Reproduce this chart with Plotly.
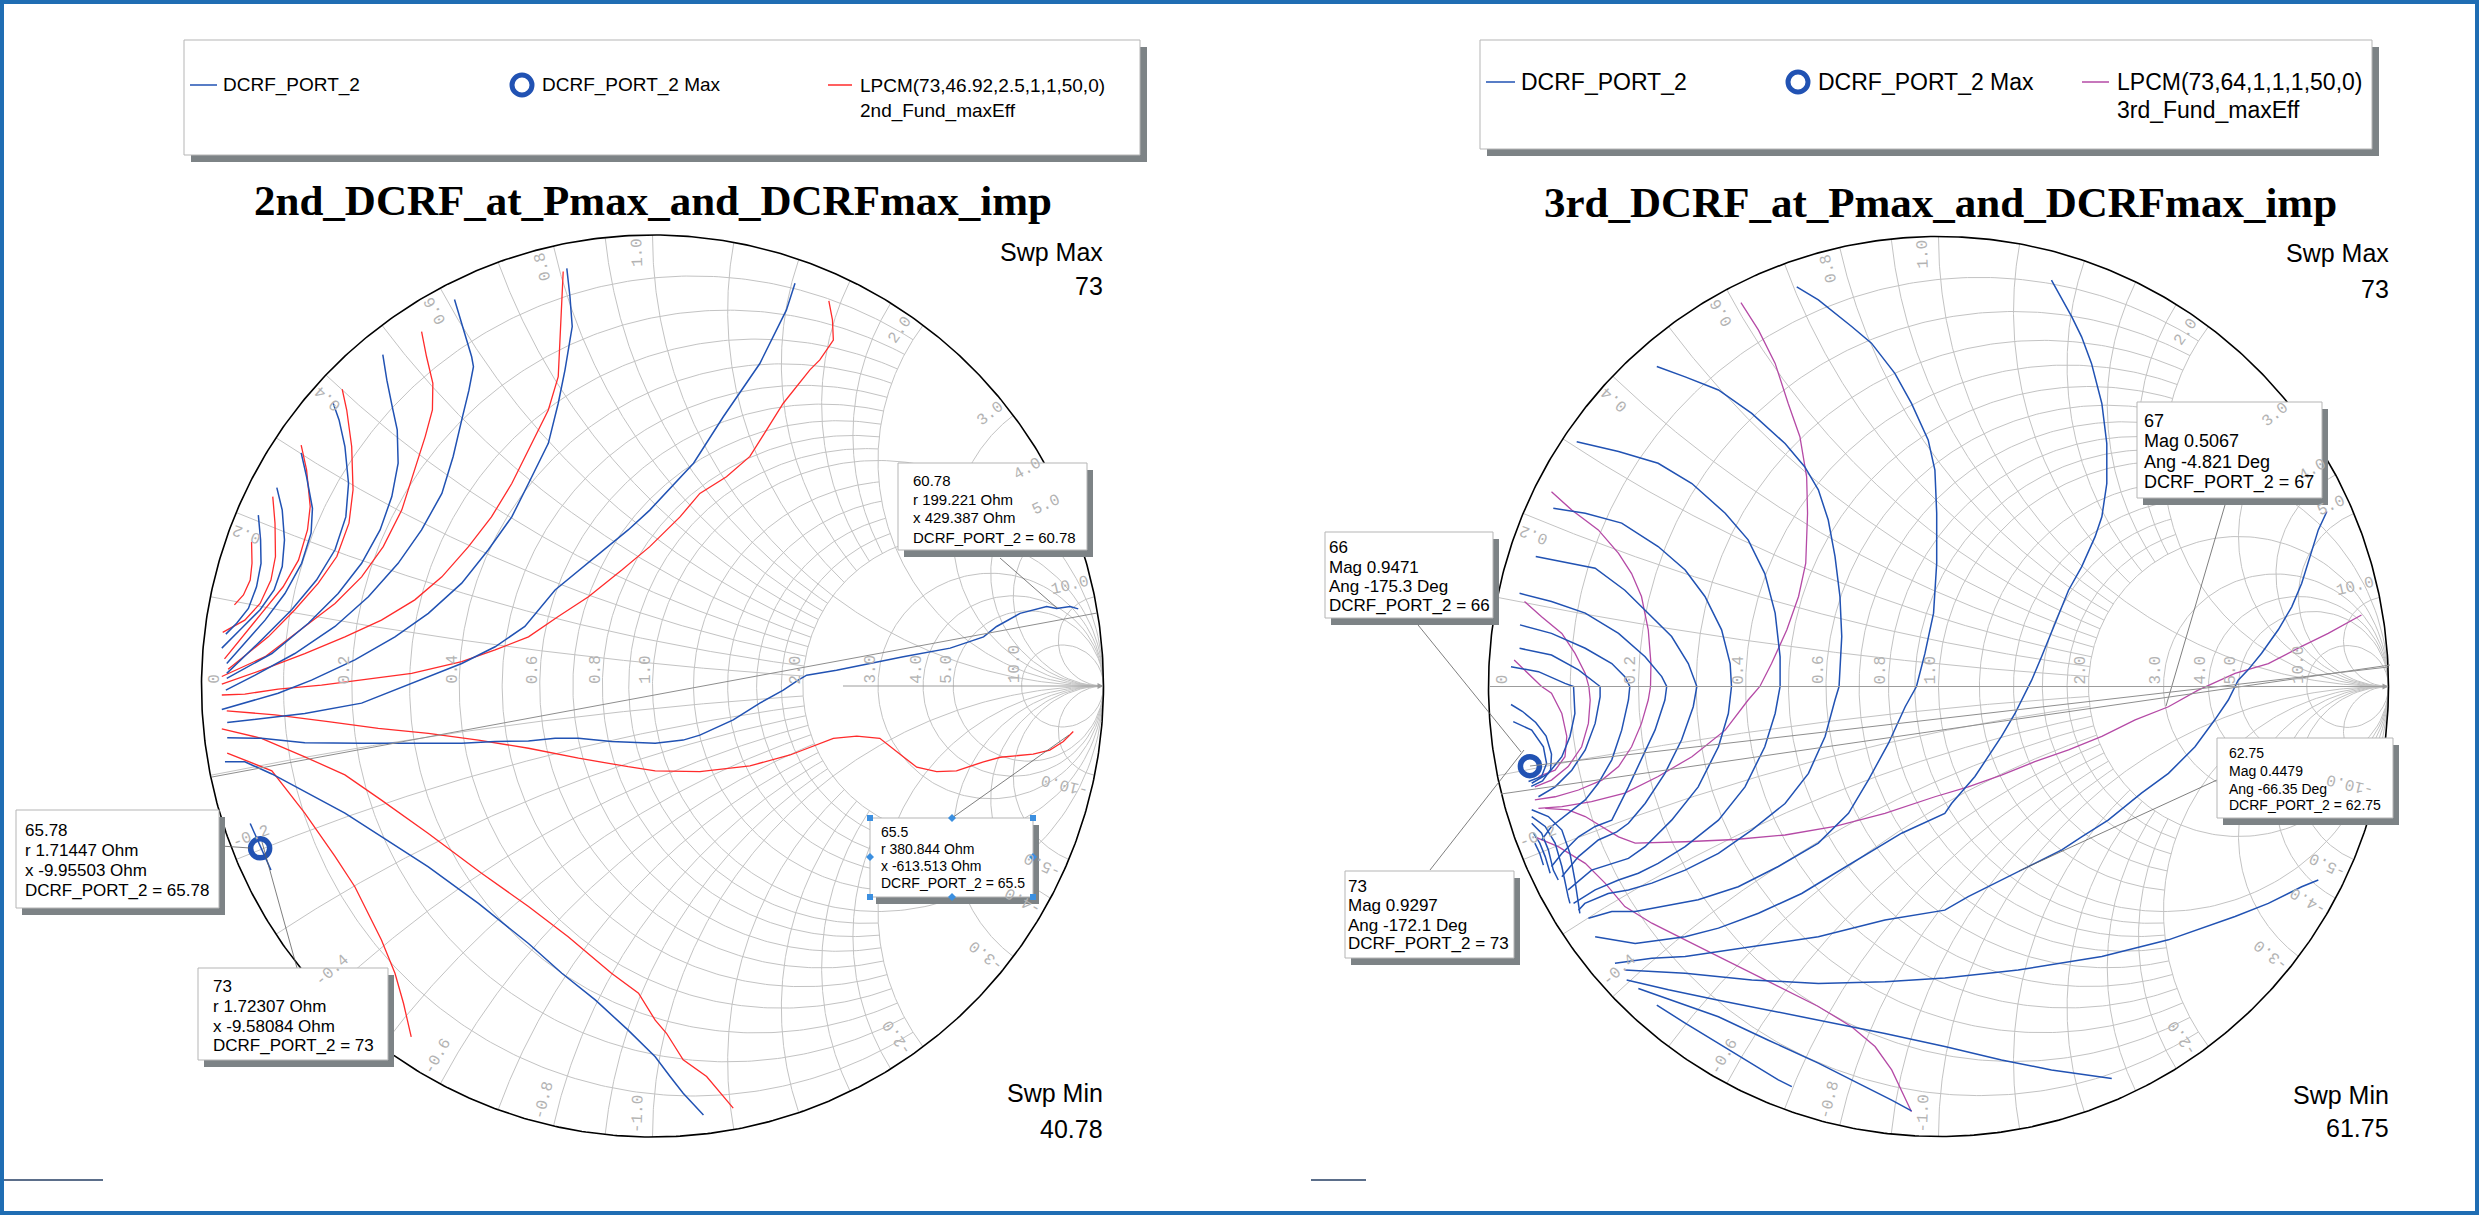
import numpy as np
import plotly.graph_objects as go

W, H = 2479, 1215

# ======================= DATA (reflection coefficient: real / imag) =======================
# ---- Left chart: 2nd_DCRF_at_Pmax_and_DCRFmax_imp ----
L_DCRF_1_RE = [-0.874, -0.869, -0.868, -0.878, -0.896, -0.922, -0.946]
L_DCRF_1_IM = [0.379, 0.324, 0.272, 0.220, 0.172, 0.139, 0.115]
L_DCRF_2_RE = [-0.833, -0.821, -0.816, -0.821, -0.839, -0.870, -0.911, -0.955]
L_DCRF_2_IM = [0.440, 0.390, 0.324, 0.265, 0.213, 0.169, 0.128, 0.084]
L_DCRF_3_RE = [-0.779, -0.767, -0.754, -0.757, -0.778, -0.815, -0.859, -0.904, -0.944]
L_DCRF_3_IM = [0.517, 0.464, 0.394, 0.339, 0.272, 0.205, 0.146, 0.095, 0.050]
L_DCRF_4_RE = [-0.708, -0.695, -0.682, -0.674, -0.680, -0.704, -0.745, -0.800, -0.867, -0.944]
L_DCRF_4_IM = [0.627, 0.590, 0.531, 0.449, 0.375, 0.302, 0.235, 0.169, 0.102, 0.028]
L_DCRF_5_RE = [-0.598, -0.589, -0.577, -0.566, -0.564, -0.578, -0.604, -0.645, -0.697, -0.763, -0.844, -0.944]
L_DCRF_5_IM = [0.735, 0.678, 0.619, 0.568, 0.494, 0.420, 0.346, 0.272, 0.205, 0.139, 0.072, 0.017]
L_DCRF_6_RE = [-0.439, -0.423, -0.401, -0.397, -0.407, -0.423, -0.442, -0.467, -0.512, -0.564, -0.630, -0.704, -0.793, -0.881, -0.946]
L_DCRF_6_IM = [0.857, 0.804, 0.730, 0.708, 0.656, 0.590, 0.509, 0.427, 0.346, 0.272, 0.198, 0.132, 0.072, 0.024, -0.009]
L_DCRF_7_RE = [-0.190, -0.183, -0.178, -0.194, -0.209, -0.231, -0.275, -0.312, -0.364, -0.423, -0.497, -0.571, -0.660, -0.756, -0.830, -0.904, -0.955]
L_DCRF_7_IM = [0.926, 0.863, 0.797, 0.701, 0.627, 0.538, 0.449, 0.375, 0.302, 0.228, 0.161, 0.109, 0.058, 0.013, -0.016, -0.038, -0.052]
L_DCRF_8_RE = [0.316, 0.297, 0.238, 0.157, 0.091, -0.006, -0.054, -0.127, -0.216, -0.283, -0.349, -0.423, -0.534, -0.645, -0.771, -0.867, -0.943]
L_DCRF_8_IM = [0.893, 0.834, 0.715, 0.597, 0.494, 0.390, 0.346, 0.287, 0.213, 0.132, 0.087, 0.050, 0.006, -0.038, -0.061, -0.072, -0.081]
L_DCRF_9_RE = [-0.943, -0.867, -0.771, -0.645, -0.423, -0.349, -0.275, -0.216, -0.164, -0.091, 0.006, 0.068, 0.105, 0.179, 0.238, 0.290, 0.323,
               0.342, 0.408, 0.467, 0.556, 0.660, 0.734, 0.763, 0.815, 0.874, 0.896, 0.926, 0.944]
L_DCRF_9_IM = [-0.115, -0.116, -0.126, -0.127, -0.127, -0.123, -0.122, -0.116, -0.116, -0.123, -0.127, -0.120, -0.109, -0.075, -0.038, -0.009, 0.013,
               0.024, 0.035, 0.047, 0.065, 0.084, 0.109, 0.132, 0.161, 0.176, 0.172, 0.176, 0.171]
L_DCRF_10_RE = [-0.948, -0.904, -0.844, -0.771, -0.682, -0.601, -0.497, -0.386, -0.275, -0.201, -0.127, -0.054, 0.006, 0.039, 0.068, 0.113]
L_DCRF_10_IM = [-0.168, -0.168, -0.195, -0.234, -0.282, -0.334, -0.401, -0.482, -0.571, -0.637, -0.696, -0.763, -0.822, -0.866, -0.903, -0.951]
L_DCRF_11_RE = [-0.892, -0.846]
L_DCRF_11_IM = [-0.305, -0.408]

L_LPCM_1_RE = [-0.889, -0.888, -0.892, -0.907, -0.927]
L_LPCM_1_IM = [0.320, 0.272, 0.235, 0.202, 0.180]
L_LPCM_2_RE = [-0.842, -0.837, -0.836, -0.846, -0.870, -0.904, -0.953]
L_LPCM_2_IM = [0.420, 0.361, 0.287, 0.235, 0.183, 0.146, 0.119]
L_LPCM_3_RE = [-0.779, -0.767, -0.759, -0.765, -0.785, -0.819, -0.867, -0.907, -0.949]
L_LPCM_3_IM = [0.534, 0.479, 0.398, 0.346, 0.279, 0.220, 0.161, 0.113, 0.060]
L_LPCM_4_RE = [-0.688, -0.678, -0.667, -0.664, -0.673, -0.700, -0.741, -0.793, -0.852, -0.941]
L_LPCM_4_IM = [0.658, 0.612, 0.531, 0.435, 0.361, 0.287, 0.228, 0.169, 0.109, 0.037]
L_LPCM_5_RE = [-0.512, -0.501, -0.487, -0.488, -0.504, -0.527, -0.556, -0.597, -0.645, -0.704, -0.771, -0.859, -0.955]
L_LPCM_5_IM = [0.786, 0.730, 0.671, 0.612, 0.553, 0.479, 0.390, 0.309, 0.242, 0.183, 0.132, 0.065, 0.021]
L_LPCM_6_RE = [-0.198, -0.201, -0.204, -0.209, -0.231, -0.268, -0.312, -0.357, -0.408, -0.467, -0.527, -0.601, -0.682, -0.771, -0.867, -0.955]
L_LPCM_6_IM = [0.919, 0.848, 0.767, 0.686, 0.612, 0.538, 0.449, 0.375, 0.309, 0.242, 0.191, 0.146, 0.109, 0.072, 0.035, 0.004]
L_LPCM_7_RE = [0.391, 0.399, 0.401, 0.371, 0.349, 0.290, 0.253, 0.216, 0.164, 0.105, 0.061, -0.006, -0.068, -0.142, -0.209, -0.275,
               -0.349, -0.423, -0.534, -0.645, -0.734, -0.830, -0.904, -0.955]
L_LPCM_7_IM = [0.854, 0.812, 0.767, 0.723, 0.701, 0.627, 0.568, 0.509, 0.464, 0.427, 0.375, 0.309, 0.257, 0.198, 0.154, 0.109,
               0.080, 0.054, 0.028, 0.013, 0.002, -0.007, -0.018, -0.020]
L_LPCM_8_RE = [-0.944, -0.837, -0.719, -0.608, -0.497, -0.386, -0.275, -0.164, -0.054, 0.006, 0.105, 0.216, 0.305, 0.401, 0.453,
               0.504, 0.556, 0.586, 0.630, 0.674, 0.734, 0.771, 0.844, 0.881, 0.911, 0.933]
L_LPCM_8_IM = [-0.055, -0.064, -0.079, -0.094, -0.105, -0.120, -0.138, -0.160, -0.179, -0.188, -0.190, -0.177, -0.153, -0.116, -0.111,
               -0.116, -0.157, -0.180, -0.190, -0.188, -0.168, -0.158, -0.151, -0.142, -0.123, -0.101]
L_LPCM_9_RE = [-0.955, -0.867, -0.771, -0.682, -0.601, -0.497, -0.379, -0.275, -0.187, -0.091, -0.031, 0.006, 0.031, 0.068, 0.120, 0.179]
L_LPCM_9_IM = [-0.095, -0.116, -0.157, -0.197, -0.253, -0.327, -0.415, -0.489, -0.556, -0.637, -0.681, -0.741, -0.770, -0.829, -0.866, -0.936]
L_LPCM_10_RE = [-0.943, -0.904, -0.844, -0.771, -0.704, -0.660, -0.601, -0.571, -0.552, -0.535]
L_LPCM_10_IM = [-0.149, -0.164, -0.188, -0.282, -0.378, -0.445, -0.563, -0.637, -0.704, -0.778]

L_MAX_RE = [-0.870]
L_MAX_IM = [-0.360]

# ---- Right chart: 3rd_DCRF_at_Pmax_and_DCRFmax_imp ----
R_DCRF_1_RE = [-0.626, -0.563, -0.489, -0.415, -0.356, -0.326]
R_DCRF_1_IM = [-0.708, -0.748, -0.793, -0.837, -0.874, -0.889]
R_DCRF_2_RE = [-0.667, -0.593, -0.489, -0.378, -0.267, -0.178, -0.104, -0.060]
R_DCRF_2_IM = [-0.671, -0.697, -0.734, -0.786, -0.837, -0.882, -0.919, -0.943]
R_DCRF_3_RE = [-0.693, -0.600, -0.489, -0.378, -0.267, -0.119, 0.014, 0.140, 0.251, 0.385]
R_DCRF_3_IM = [-0.652, -0.674, -0.697, -0.719, -0.741, -0.771, -0.800, -0.830, -0.852, -0.871]
R_DCRF_4_RE = [-0.697, -0.563, -0.415, -0.267, -0.119, 0.014, 0.177, 0.363, 0.511, 0.659, 0.733, 0.807, 0.844]
R_DCRF_4_IM = [-0.630, -0.637, -0.652, -0.660, -0.656, -0.648, -0.630, -0.600, -0.563, -0.511, -0.482, -0.445, -0.430]
R_DCRF_5_RE = [-0.719, -0.637, -0.563, -0.415, -0.267, -0.119, 0.014, 0.066, 0.126, 0.200, 0.274, 0.318, 0.377, 0.451, 0.511,
               0.570, 0.614, 0.644, 0.666, 0.688, 0.718, 0.755, 0.785, 0.807, 0.829, 0.844, 0.863]
R_DCRF_5_IM = [-0.615, -0.604, -0.600, -0.578, -0.556, -0.519, -0.497, -0.467, -0.437, -0.400, -0.363, -0.334, -0.297, -0.237, -0.193,
               -0.134, -0.074, -0.030, 0.014, 0.037, 0.074, 0.126, 0.177, 0.229, 0.303, 0.348, 0.389]
R_DCRF_6_RE = [-0.763, -0.674, -0.563, -0.489, -0.400, -0.304, -0.230, -0.156, -0.082, 0.014, 0.029, 0.081, 0.140, 0.170, 0.207,
               0.229, 0.259, 0.289, 0.318, 0.348, 0.363, 0.374, 0.374, 0.363, 0.340, 0.318, 0.296, 0.251]
R_DCRF_6_IM = [-0.556, -0.571, -0.556, -0.537, -0.504, -0.460, -0.415, -0.371, -0.326, -0.282, -0.260, -0.200, -0.111, -0.060, 0.014,
               0.066, 0.140, 0.214, 0.266, 0.333, 0.377, 0.451, 0.540, 0.629, 0.718, 0.777, 0.822, 0.903]
R_DCRF_7_RE = [-0.315, -0.267, -0.193, -0.149, -0.097, -0.060, -0.023, -0.008, -0.004, -0.004, -0.011, -0.030, -0.049,
               -0.074, -0.111, -0.156, -0.200, -0.267, -0.356, -0.445, -0.534, -0.619, -0.674, -0.726, -0.778]
R_DCRF_7_IM = [0.888, 0.859, 0.800, 0.763, 0.696, 0.629, 0.548, 0.481, 0.385, 0.274, 0.163, 0.074, 0.000,
               -0.045, -0.126, -0.208, -0.282, -0.348, -0.400, -0.445, -0.474, -0.489, -0.500, -0.500, -0.515]
R_DCRF_8_RE = [-0.626, -0.563, -0.489, -0.415, -0.341, -0.297, -0.267, -0.245, -0.230, -0.219, -0.215, -0.221,
               -0.230, -0.252, -0.289, -0.341, -0.415, -0.489, -0.563, -0.637, -0.689, -0.734, -0.786, -0.800]
R_DCRF_8_IM = [0.711, 0.688, 0.659, 0.607, 0.540, 0.488, 0.437, 0.370, 0.289, 0.200, 0.111, 0.000,
               -0.030, -0.111, -0.193, -0.260, -0.319, -0.371, -0.408, -0.437, -0.452, -0.460, -0.482, -0.497]
R_DCRF_9_RE = [-0.804, -0.711, -0.623, -0.548, -0.474, -0.423, -0.386, -0.363, -0.352, -0.352,
               -0.363, -0.386, -0.430, -0.489, -0.563, -0.623, -0.667, -0.711, -0.763, -0.811]
R_DCRF_9_IM = [0.544, 0.522, 0.496, 0.451, 0.385, 0.326, 0.251, 0.163, 0.066, 0.000,
               -0.060, -0.134, -0.223, -0.297, -0.356, -0.393, -0.415, -0.430, -0.452, -0.482]
R_DCRF_10_RE = [-0.856, -0.785, -0.704, -0.623, -0.563, -0.519, -0.482, -0.463, -0.460,
                -0.467, -0.489, -0.534, -0.593, -0.652, -0.689, -0.726, -0.771, -0.823]
R_DCRF_10_IM = [0.396, 0.385, 0.363, 0.311, 0.259, 0.200, 0.126, 0.051, 0.000,
                -0.060, -0.134, -0.223, -0.297, -0.356, -0.382, -0.393, -0.408, -0.452]
R_DCRF_11_RE = [-0.895, -0.823, -0.763, -0.697, -0.637, -0.593, -0.556, -0.537,
                -0.545, -0.571, -0.608, -0.652, -0.689, -0.715, -0.756, -0.800, -0.837]
R_DCRF_11_IM = [0.289, 0.274, 0.263, 0.214, 0.155, 0.111, 0.051, 0.000,
                -0.045, -0.119, -0.193, -0.260, -0.304, -0.323, -0.341, -0.378, -0.423]
R_DCRF_12_RE = [-0.931, -0.860, -0.785, -0.711, -0.652, -0.615, -0.604,
                -0.608, -0.630, -0.660, -0.689, -0.711, -0.726, -0.763, -0.800, -0.837, -0.860]
R_DCRF_12_IM = [0.207, 0.189, 0.163, 0.118, 0.066, 0.022, 0.000,
                -0.030, -0.097, -0.163, -0.223, -0.267, -0.297, -0.311, -0.334, -0.371, -0.400]
R_DCRF_13_RE = [-0.930, -0.860, -0.785, -0.726, -0.697, -0.686, -0.689, -0.704, -0.726, -0.756, -0.785, -0.823, -0.860, -0.882]
R_DCRF_13_IM = [0.137, 0.118, 0.085, 0.051, 0.022, 0.000, -0.030, -0.097, -0.163, -0.215, -0.252, -0.282, -0.311, -0.341]
R_DCRF_14_RE = [-0.931, -0.860, -0.800, -0.763, -0.752, -0.752, -0.763, -0.785, -0.815, -0.852, -0.889]
R_DCRF_14_IM = [0.085, 0.070, 0.037, 0.007, 0.000, -0.023, -0.082, -0.141, -0.186, -0.223, -0.245]
R_DCRF_15_RE = [-0.950, -0.889, -0.830, -0.811, -0.808, -0.819, -0.837, -0.867, -0.904]
R_DCRF_15_IM = [0.044, 0.033, 0.007, 0.000, -0.060, -0.111, -0.156, -0.193, -0.215]
R_DCRF_16_RE = [-0.950, -0.925, -0.895, -0.872, -0.860, -0.862, -0.880, -0.905]
R_DCRF_16_IM = [-0.040, -0.055, -0.080, -0.110, -0.150, -0.185, -0.210, -0.222]
R_DCRF_17_RE = [-0.945, -0.904, -0.878, -0.871, -0.882, -0.911]
R_DCRF_17_IM = [-0.078, -0.097, -0.134, -0.171, -0.200, -0.211]
R_DCRF_18_RE = [-0.904, -0.867, -0.837, -0.819, -0.808, -0.797]
R_DCRF_18_IM = [-0.274, -0.289, -0.319, -0.371, -0.430, -0.504]
R_DCRF_19_RE = [-0.904, -0.874, -0.852, -0.837, -0.823, -0.819]
R_DCRF_19_IM = [-0.289, -0.311, -0.348, -0.400, -0.467, -0.482]
R_DCRF_20_RE = [-0.904, -0.882, -0.867, -0.856, -0.845]
R_DCRF_20_IM = [-0.304, -0.326, -0.363, -0.408, -0.430]
R_DCRF_21_RE = [-0.900, -0.886, -0.874, -0.863]
R_DCRF_21_IM = [-0.326, -0.348, -0.378, -0.415]
R_DCRF_22_RE = [-0.897, -0.886, -0.878]
R_DCRF_22_IM = [-0.348, -0.371, -0.397]

R_LPCM_1_RE = [0.940, 0.866, 0.807, 0.733, 0.659, 0.577, 0.511, 0.437, 0.363, 0.289, 0.214, 0.140, 0.066, -0.008,
               -0.119, -0.230, -0.341, -0.452, -0.563, -0.674, -0.711, -0.748, -0.785, -0.823, -0.874]
R_LPCM_1_IM = [0.159, 0.118, 0.089, 0.051, 0.029, -0.008, -0.045, -0.074, -0.111, -0.141, -0.167, -0.197, -0.223, -0.245,
               -0.282, -0.311, -0.330, -0.340, -0.345, -0.348, -0.334, -0.311, -0.289, -0.274, -0.271]
R_LPCM_2_RE = [-0.439, -0.400, -0.363, -0.334, -0.308, -0.293, -0.291, -0.295, -0.311, -0.337, -0.371, -0.397,
               -0.423, -0.474, -0.548, -0.623, -0.697, -0.771, -0.837, -0.889]
R_LPCM_2_IM = [0.853, 0.792, 0.718, 0.629, 0.555, 0.466, 0.385, 0.274, 0.200, 0.126, 0.051, 0.000,
               -0.030, -0.097, -0.156, -0.200, -0.237, -0.256, -0.267, -0.271]
R_LPCM_3_RE = [-0.860, -0.815, -0.756, -0.711, -0.682, -0.660, -0.645, -0.639, -0.640,
               -0.645, -0.660, -0.682, -0.711, -0.748, -0.800, -0.852, -0.897]
R_LPCM_3_IM = [0.433, 0.392, 0.348, 0.296, 0.251, 0.200, 0.126, 0.051, 0.000,
               -0.030, -0.082, -0.134, -0.178, -0.208, -0.230, -0.245, -0.252]
R_LPCM_4_RE = [-0.920, -0.882, -0.837, -0.808, -0.785, -0.777, -0.774, -0.778, -0.793, -0.823, -0.860, -0.897]
R_LPCM_4_IM = [0.189, 0.155, 0.118, 0.074, 0.029, 0.000, -0.030, -0.082, -0.134, -0.178, -0.208, -0.223]
R_LPCM_5_RE = [-0.943, -0.911, -0.882, -0.860, -0.837, -0.826, -0.830, -0.852, -0.889]
R_LPCM_5_IM = [0.059, 0.029, 0.000, -0.015, -0.060, -0.111, -0.156, -0.186, -0.200]
R_LPCM_6_RE = [-0.897, -0.845, -0.785, -0.741, -0.697, -0.637, -0.563, -0.489, -0.415, -0.341, -0.267, -0.193, -0.141, -0.104, -0.082, -0.060]
R_LPCM_6_IM = [-0.334, -0.356, -0.393, -0.437, -0.489, -0.526, -0.563, -0.600, -0.637, -0.674, -0.711, -0.756, -0.800, -0.852, -0.897, -0.945]

R_MAX_RE = [-0.908]
R_MAX_IM = [-0.177]

# ---- Smith grid tick values / labels ----
R_TICKS = [0, 0.2, 0.4, 0.6, 0.8, 1.0, 2.0, 3.0, 4.0, 5.0, 10.0]
R_TICK_TEXT = ["0", "0.2", "0.4", "0.6", "0.8", "1.0", "2.0", "3.0", "4.0", "5.0", "10.0"]
X_TICKS = [0.2, 0.4, 0.6, 0.8, 1.0, 2.0, 3.0, 4.0, 5.0, 10.0]
X_TICK_TEXT = ["0.2", "0.4", "0.6", "0.8", "1.0", "2.0", "3.0", "4.0", "5.0", "10.0"]
# grid circles: (value, truncation limit on the other coordinate; None = full)
GRID_R = [(0.1, 2), (0.2, 2), (0.3, 2), (0.4, 2), (0.5, 2), (0.6, 2), (0.7, 2), (0.8, 2), (0.9, 2), (1.0, None),
          (1.2, 2), (1.4, 2), (1.6, 2), (1.8, 2), (2.0, None), (3.0, None), (4.0, None), (5.0, None), (10.0, None)]
GRID_X = [(0.1, 2), (0.2, 2), (0.3, 2), (0.4, 2), (0.5, 2), (0.6, 2), (0.7, 2), (0.8, 2), (0.9, 2), (1.0, None),
          (1.2, 2), (1.4, 2), (1.6, 2), (1.8, 2), (2.0, None), (3.0, None), (4.0, None), (5.0, None), (10.0, None)]

LEFT_DCRF = [(L_DCRF_1_RE, L_DCRF_1_IM), (L_DCRF_2_RE, L_DCRF_2_IM), (L_DCRF_3_RE, L_DCRF_3_IM), (L_DCRF_4_RE, L_DCRF_4_IM),
             (L_DCRF_5_RE, L_DCRF_5_IM), (L_DCRF_6_RE, L_DCRF_6_IM), (L_DCRF_7_RE, L_DCRF_7_IM), (L_DCRF_8_RE, L_DCRF_8_IM),
             (L_DCRF_9_RE, L_DCRF_9_IM), (L_DCRF_10_RE, L_DCRF_10_IM), (L_DCRF_11_RE, L_DCRF_11_IM)]
LEFT_LPCM = [(L_LPCM_1_RE, L_LPCM_1_IM), (L_LPCM_2_RE, L_LPCM_2_IM), (L_LPCM_3_RE, L_LPCM_3_IM), (L_LPCM_4_RE, L_LPCM_4_IM),
             (L_LPCM_5_RE, L_LPCM_5_IM), (L_LPCM_6_RE, L_LPCM_6_IM), (L_LPCM_7_RE, L_LPCM_7_IM), (L_LPCM_8_RE, L_LPCM_8_IM),
             (L_LPCM_9_RE, L_LPCM_9_IM), (L_LPCM_10_RE, L_LPCM_10_IM)]
RIGHT_DCRF = [(R_DCRF_1_RE, R_DCRF_1_IM), (R_DCRF_2_RE, R_DCRF_2_IM), (R_DCRF_3_RE, R_DCRF_3_IM), (R_DCRF_4_RE, R_DCRF_4_IM),
              (R_DCRF_5_RE, R_DCRF_5_IM), (R_DCRF_6_RE, R_DCRF_6_IM), (R_DCRF_7_RE, R_DCRF_7_IM), (R_DCRF_8_RE, R_DCRF_8_IM),
              (R_DCRF_9_RE, R_DCRF_9_IM), (R_DCRF_10_RE, R_DCRF_10_IM), (R_DCRF_11_RE, R_DCRF_11_IM), (R_DCRF_12_RE, R_DCRF_12_IM),
              (R_DCRF_13_RE, R_DCRF_13_IM), (R_DCRF_14_RE, R_DCRF_14_IM), (R_DCRF_15_RE, R_DCRF_15_IM), (R_DCRF_16_RE, R_DCRF_16_IM),
              (R_DCRF_17_RE, R_DCRF_17_IM), (R_DCRF_18_RE, R_DCRF_18_IM), (R_DCRF_19_RE, R_DCRF_19_IM), (R_DCRF_20_RE, R_DCRF_20_IM),
              (R_DCRF_21_RE, R_DCRF_21_IM), (R_DCRF_22_RE, R_DCRF_22_IM)]
RIGHT_LPCM = [(R_LPCM_1_RE, R_LPCM_1_IM), (R_LPCM_2_RE, R_LPCM_2_IM), (R_LPCM_3_RE, R_LPCM_3_IM),
              (R_LPCM_4_RE, R_LPCM_4_IM), (R_LPCM_5_RE, R_LPCM_5_IM), (R_LPCM_6_RE, R_LPCM_6_IM)]

# ======================= STYLE / LAYOUT CONSTANTS =======================
BLUE = "#2152b3"
RED = "#ff2b2b"
MAGENTA = "#b54aa6"
GRID = "#c3c3c3"
LBL = "#b3b3b3"
SANS = "Liberation Sans, Arial, sans-serif"
SERIF = "Liberation Serif, Times New Roman, serif"
MONO = "Liberation Mono, Courier New, monospace"
SHADOW = "#7d8386"

# chart geometry in pixels: centre and radius
CHARTS = {
    "left": dict(cx=652.5, cy=686.0, R=451.0, xd=[0.0, 0.5], xa="x", ya="y", axis_start=0.419),
    "right": dict(cx=1938.5, cy=686.5, R=450.0, xd=[0.5, 1.0], xa="x2", ya="y2", axis_start=-1.0),
}


def px(x):
    return x / W


def py(y):
    return 1 - y / H


def gam(z):
    return (z - 1) / (z + 1)


def grid_lines():
    xs, ys = [], []
    for r, lim in GRID_R:
        tmax = np.arctan(lim) if lim else np.pi / 2 - 2e-4
        t = np.linspace(-tmax, tmax, 400)
        g = gam(r + 1j * np.tan(t))
        xs += list(g.real) + [None]
        ys += list(g.imag) + [None]
    for xv, lim in GRID_X:
        smax = np.arctan(lim) if lim else np.pi / 2 - 2e-4
        s = np.linspace(0, smax, 300)
        for sg in (1, -1):
            g = gam(np.tan(s) + 1j * sg * xv)
            xs += list(g.real) + [None]
            ys += list(g.imag) + [None]
    return xs, ys


def join(curves):
    xs, ys = [], []
    for re, im in curves:
        xs += list(re) + [None]
        ys += list(im) + [None]
    return xs, ys


fig = go.Figure()
annotations = []
shapes = []

for key, curves_b, curves_r, rcol, mre, mim in [
    ("left", LEFT_DCRF, LEFT_LPCM, RED, L_MAX_RE, L_MAX_IM),
    ("right", RIGHT_DCRF, RIGHT_LPCM, MAGENTA, R_MAX_RE, R_MAX_IM),
]:
    c = CHARTS[key]
    xa, ya, R = c["xa"], c["ya"], c["R"]
    gx, gy = grid_lines()
    fig.add_trace(go.Scatter(x=gx, y=gy, mode="lines", line=dict(color=GRID, width=1),
                             hoverinfo="skip", xaxis=xa, yaxis=ya))
    th = np.linspace(0, 2 * np.pi, 721)
    fig.add_trace(go.Scatter(x=np.cos(th), y=np.sin(th), mode="lines", line=dict(color="black", width=1.6),
                             hoverinfo="skip", xaxis=xa, yaxis=ya))
    # real axis with arrow
    annotations.append(dict(x=1.0, y=0, ax=c["axis_start"], ay=0, xref=xa, yref=ya, axref=xa, ayref=ya,
                            showarrow=True, arrowhead=2, arrowsize=1.2, arrowwidth=1, arrowcolor="#9c9c9c", text=""))
    # contours
    rx, ry = join(curves_r)
    fig.add_trace(go.Scatter(x=rx, y=ry, mode="lines", line=dict(color=rcol, width=1.3),
                             hoverinfo="skip", xaxis=xa, yaxis=ya))
    bx, by = join(curves_b)
    fig.add_trace(go.Scatter(x=bx, y=by, mode="lines", line=dict(color=BLUE, width=1.5),
                             hoverinfo="skip", xaxis=xa, yaxis=ya))
    fig.add_trace(go.Scatter(x=mre, y=mim, mode="markers",
                             marker=dict(symbol="circle-open", size=19, color=BLUE, line=dict(width=5.5, color=BLUE)),
                             hoverinfo="skip", xaxis=xa, yaxis=ya))
    # real-axis labels (rotated)
    cw = 9.6
    for r, t in zip(R_TICKS, R_TICK_TEXT):
        g = (r - 1) / (r + 1)
        cxl = g + (14 / R if r == 0 else -7 / R)
        cyl = (len(t) * cw / 2 + 2) / R
        annotations.append(dict(x=cxl, y=cyl, xref=xa, yref=ya, text=t, showarrow=False, textangle=-90,
                                xanchor="center", yanchor="middle", borderpad=0,
                                font=dict(family=MONO, size=16, color=LBL)))
    # rim labels
    for xv, t in zip(X_TICKS, X_TICK_TEXT):
        base = 180 - 2 * np.degrees(np.arctan(xv))
        for sg in (1, -1):
            text = t if sg > 0 else "-" + t
            a = base + 2 if sg > 0 else -base - 2
            rho = 1 - (len(text) * cw / 2 + 3) / R
            ang = -a if sg > 0 else -(a + 180)
            if ang < -180:
                ang += 360
            annotations.append(dict(x=rho * np.cos(np.radians(a)), y=rho * np.sin(np.radians(a)), xref=xa, yref=ya,
                                    text=text, showarrow=False, textangle=ang, xanchor="center", yanchor="middle",
                                    borderpad=0, font=dict(family=MONO, size=16, color=LBL)))


def text(x, y, s, size, anchor="left", family=SANS, color="black"):
    annotations.append(dict(x=px(x), y=py(y), xref="paper", yref="paper", text=s, showarrow=False,
                            xanchor=anchor, yanchor="middle", borderpad=0, borderwidth=0,
                            font=dict(family=family, size=size, color=color)))


def rect(x0, y0, x1, y1, fill, line_color=None, lw=0):
    shapes.append(dict(type="rect", xref="paper", yref="paper", x0=px(x0), x1=px(x1), y0=py(y1), y1=py(y0),
                       fillcolor=fill, line=dict(color=line_color or fill, width=lw), layer="above"))


def hline(x0, y0, x1, y1, color, w):
    shapes.append(dict(type="line", xref="paper", yref="paper", x0=px(x0), x1=px(x1), y0=py(y0), y1=py(y1),
                       line=dict(color=color, width=w), layer="above"))


def ring(cx, cy, r, color):
    shapes.append(dict(type="circle", xref="paper", yref="paper", x0=px(cx - r), x1=px(cx + r), y0=py(cy + r),
                       y1=py(cy - r), line=dict(color=color, width=5), fillcolor="rgba(0,0,0,0)", layer="above"))


# leader lines from marker boxes
LEADERS = [(1000, 558, 1057, 608), (952, 818, 1069, 735), (297, 968, 262, 842), (221, 846, 250, 848),
           (1414, 620, 1521, 752), (1430, 870, 1524, 750), (2225, 505, 2166, 706), (2217, 780, 2019, 871)]
for x0, y0, x1, y1 in LEADERS:
    hline(x0, y0, x1, y1, "#5e5e5e", 0.8)
hline(212, 777, 1097, 613, "#8e8e8e", 1)
hline(1501, 794, 2390, 665, "#8e8e8e", 1)
hline(1530, 766, 2388, 667, "#8e8e8e", 1)

# legends
LEGENDS = [
    dict(box=(184, 40, 1140, 155), fs=19, ly=85, l2=111, line=(190, 217), t1=223, ring=522, t2=542,
         rline=(828, 852), t3=860, col=RED, lp="LPCM(73,46.92,2.5,1,1,50,0)", fund="2nd_Fund_maxEff"),
    dict(box=(1480, 40, 2372, 149), fs=23, ly=82, l2=109.5, line=(1486, 1515), t1=1521, ring=1798, t2=1818,
         rline=(2082, 2109), t3=2117, col=MAGENTA, lp="LPCM(73,64,1,1,1,50,0)", fund="3rd_Fund_maxEff"),
]
for lg in LEGENDS:
    x0, y0, x1, y1 = lg["box"]
    rect(x0 + 7, y0 + 7, x1 + 7, y1 + 7, SHADOW)
    rect(x0, y0, x1, y1, "white", "#b5b5b5", 1)
    hline(lg["line"][0], lg["ly"], lg["line"][1], lg["ly"], BLUE, 1.5)
    text(lg["t1"], lg["ly"], "DCRF_PORT_2", lg["fs"])
    ring(lg["ring"], lg["ly"], 10, BLUE)
    text(lg["t2"], lg["ly"], "DCRF_PORT_2 Max", lg["fs"])
    hline(lg["rline"][0], lg["ly"], lg["rline"][1], lg["ly"], lg["col"], 1.5)
    text(lg["t3"], lg["ly"], lg["lp"], lg["fs"])
    text(lg["t3"], lg["l2"], lg["fund"], lg["fs"])

# titles and sweep labels
text(652.5, 200.5, "<b>2nd_DCRF_at_Pmax_and_DCRFmax_imp</b>", 43, "center", SERIF)
text(1940.5, 202.5, "<b>3rd_DCRF_at_Pmax_and_DCRFmax_imp</b>", 43, "center", SERIF)
for xr, ys, vals in [(1103, (252, 286, 1093, 1128.5), ("73", "40.78")), (2389, (253.3, 288.8, 1094.5, 1128), ("73", "61.75"))]:
    text(xr, ys[0], "Swp Max", 25, "right")
    text(xr, ys[1], vals[0], 25, "right")
    text(xr, ys[2], "Swp Min", 25, "right")
    text(xr, ys[3], vals[1], 25, "right")

# marker info boxes
BOXES = [
    dict(b=(898, 463, 1087, 550), tx=913, ty=(480, 499, 518, 537), fs=15,
         lines=("60.78", "r 199.221 Ohm", "x 429.387 Ohm", "DCRF_PORT_2 = 60.78")),
    dict(b=(870, 818, 1033, 897), tx=881, ty=(832, 849, 866, 883), fs=14,
         lines=("65.5", "r 380.844 Ohm", "x -613.513 Ohm", "DCRF_PORT_2 = 65.5")),
    dict(b=(16, 810, 219, 908), tx=25, ty=(831, 850, 870, 890), fs=17,
         lines=("65.78", "r 1.71447 Ohm", "x -9.95503 Ohm", "DCRF_PORT_2 = 65.78")),
    dict(b=(198, 968, 388, 1060), tx=213, ty=(986, 1006, 1026, 1045), fs=17,
         lines=("73", "r 1.72307 Ohm", "x -9.58084 Ohm", "DCRF_PORT_2 = 73")),
    dict(b=(2137, 402, 2322, 498), tx=2144, ty=(421, 441, 462, 483), fs=18,
         lines=("67", "Mag 0.5067", "Ang -4.821 Deg", "DCRF_PORT_2 = 67")),
    dict(b=(1325, 532, 1493, 618), tx=1329, ty=(547, 567, 586, 605), fs=17,
         lines=("66", "Mag 0.9471", "Ang -175.3 Deg", "DCRF_PORT_2 = 66")),
    dict(b=(1345, 871, 1514, 958), tx=1348, ty=(886, 905, 925, 944), fs=17,
         lines=("73", "Mag 0.9297", "Ang -172.1 Deg", "DCRF_PORT_2 = 73")),
    dict(b=(2217, 738, 2393, 818), tx=2229, ty=(753, 771, 789, 805), fs=14,
         lines=("62.75", "Mag 0.4479", "Ang -66.35 Deg", "DCRF_PORT_2 = 62.75")),
]
for bx in BOXES:
    x0, y0, x1, y1 = bx["b"]
    rect(x0 + 6, y0 + 7, x1 + 6, y1 + 7, SHADOW)
    rect(x0, y0, x1, y1, "white", "#b5b5b5", 1)
    for yy, s in zip(bx["ty"], bx["lines"]):
        text(bx["tx"], yy, s, bx["fs"])

# selection handles on the 65.5 box
HCOL = "#3b8fe0"
for hx, hy in [(870, 818), (1033, 818), (870, 897), (1033, 897)]:
    rect(hx - 3, hy - 3, hx + 3, hy + 3, HCOL)
for hx, hy in [(952, 818), (952, 897), (870, 857), (1033, 857)]:
    shapes.append(dict(type="path", xref="paper", yref="paper",
                       path=f"M {px(hx-4)} {py(hy)} L {px(hx)} {py(hy-4)} L {px(hx+4)} {py(hy)} L {px(hx)} {py(hy+4)} Z",
                       fillcolor=HCOL, line=dict(color=HCOL, width=0), layer="above"))

# small bottom line stubs
hline(4, 1180, 103, 1180, "#5b6e8a", 2)
hline(1311, 1180, 1366, 1180, "#5b6e8a", 2)

# outer blue frame
shapes.append(dict(type="rect", xref="paper", yref="paper", x0=0, x1=1, y0=0, y1=1,
                   line=dict(color="#1f6db3", width=8), fillcolor="rgba(0,0,0,0)", layer="above"))

L, Rc = CHARTS["left"], CHARTS["right"]
lay = dict(
    width=W, height=H, autosize=False, margin=dict(l=0, r=0, t=0, b=0, pad=0),
    paper_bgcolor="white", plot_bgcolor="white", showlegend=False, hovermode=False,
    annotations=annotations, shapes=shapes,
)
for c, xk, yk in [(L, "xaxis", "yaxis"), (Rc, "xaxis2", "yaxis2")]:
    x_lo = (c["xd"][0] * W - c["cx"]) / c["R"]
    x_hi = (c["xd"][1] * W - c["cx"]) / c["R"]
    y_hi = c["cy"] / c["R"]
    y_lo = (c["cy"] - H) / c["R"]
    lay[xk] = dict(domain=c["xd"], range=[x_lo, x_hi], visible=False, fixedrange=True,
                   anchor=c["ya"])
    lay[yk] = dict(domain=[0, 1], range=[y_lo, y_hi], visible=False, fixedrange=True,
                   anchor=c["xa"])
fig.update_layout(**lay)

fig.write_html("out.html", config={"displayModeBar": False, "staticPlot": True},
               post_script="document.body.style.margin='0';document.body.style.overflow='hidden';"
                           "document.documentElement.style.overflow='hidden';")
